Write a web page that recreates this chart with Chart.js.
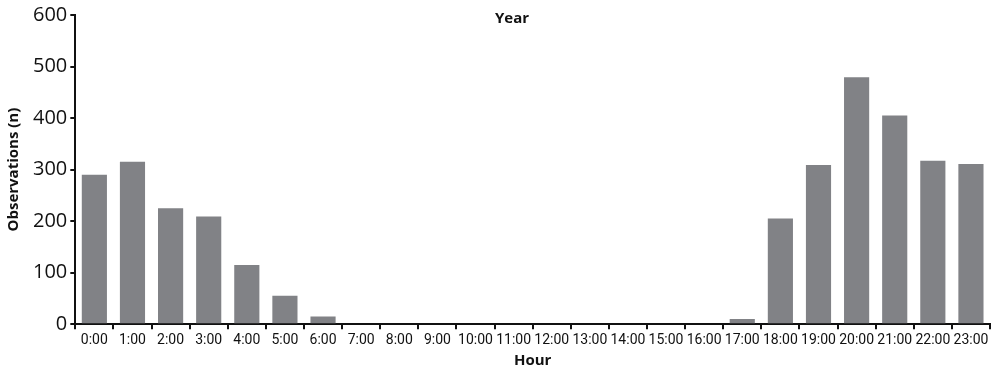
<!DOCTYPE html>
<html><head><meta charset="utf-8">
<script src="https://cdn.jsdelivr.net/npm/chart.js@4"></script>
<style>html,body{margin:0;padding:0;background:#fff}#wrap{width:993px;height:368px}</style>
</head><body><div id="wrap"><canvas id="c" width="993" height="368"></canvas></div>
<script>
const hours = ["0:00","1:00","2:00","3:00","4:00","5:00","6:00","7:00","8:00","9:00","10:00","11:00","12:00","13:00","14:00","15:00","16:00","17:00","18:00","19:00","20:00","21:00","22:00","23:00"];
const observations = [290,315,225,209,115,55,15,0,0,0,2,0,0,2,0,0,0,10,205,309,479,405,317,311];
const yTicks = [0,100,200,300,400,500,600];
const chartTitle = "Year";
const xTitle = "Hour";
const yTitle = "Observations (n)";

const titlePlugin = {
  id:'topTitle',
  afterDraw(chart){
    const ctx = chart.ctx;
    ctx.save();
    ctx.font = "bold 15px 'Open Sans', sans-serif";
    ctx.fillStyle = "#111";
    ctx.textAlign = "center";
    ctx.textBaseline = "middle";
    ctx.fillText(chartTitle, 512, 19);
    ctx.restore();
  }
};

new Chart(document.getElementById('c'), {
  type:'bar',
  data:{labels:hours, datasets:[{data:observations, backgroundColor:'#818286', borderWidth:0, barPercentage:0.66, categoryPercentage:1}]},
  options:{
    responsive:false, animation:false,
    layout:{padding:{top:14,right:3,left:5,bottom:0}},
    plugins:{legend:{display:false}, tooltip:{enabled:false}},
    scales:{
      x:{
        grid:{display:true, drawOnChartArea:false, offset:true, tickLength:5, color:'#111', lineWidth:2},
        border:{display:true, color:'#111', width:2},
        ticks:{color:'#111', font:{family:"Roboto,sans-serif", size:14}, maxRotation:0, autoSkip:false, padding:3},
        title:{display:true, text:xTitle, color:'#111', font:{family:"'Open Sans',sans-serif", size:15, weight:'bold', lineHeight:1}, padding:{top:1,bottom:0}}
      },
      y:{
        min:0, max:600,
        afterBuildTicks(axis){ axis.ticks = yTicks.map(v=>({value:v})); },
        grid:{display:true, drawOnChartArea:false, tickLength:5, color:'#111', lineWidth:2},
        border:{display:true, color:'#111', width:2},
        ticks:{color:'#111', font:{family:"'Open Sans',sans-serif", size:20}, padding:3},
        title:{display:true, text:yTitle, color:'#111', font:{family:"'Open Sans',sans-serif", size:15, weight:'bold'}, padding:{top:0,bottom:7}}
      }
    }
  },
  plugins:[titlePlugin]
});
</script></body></html>
